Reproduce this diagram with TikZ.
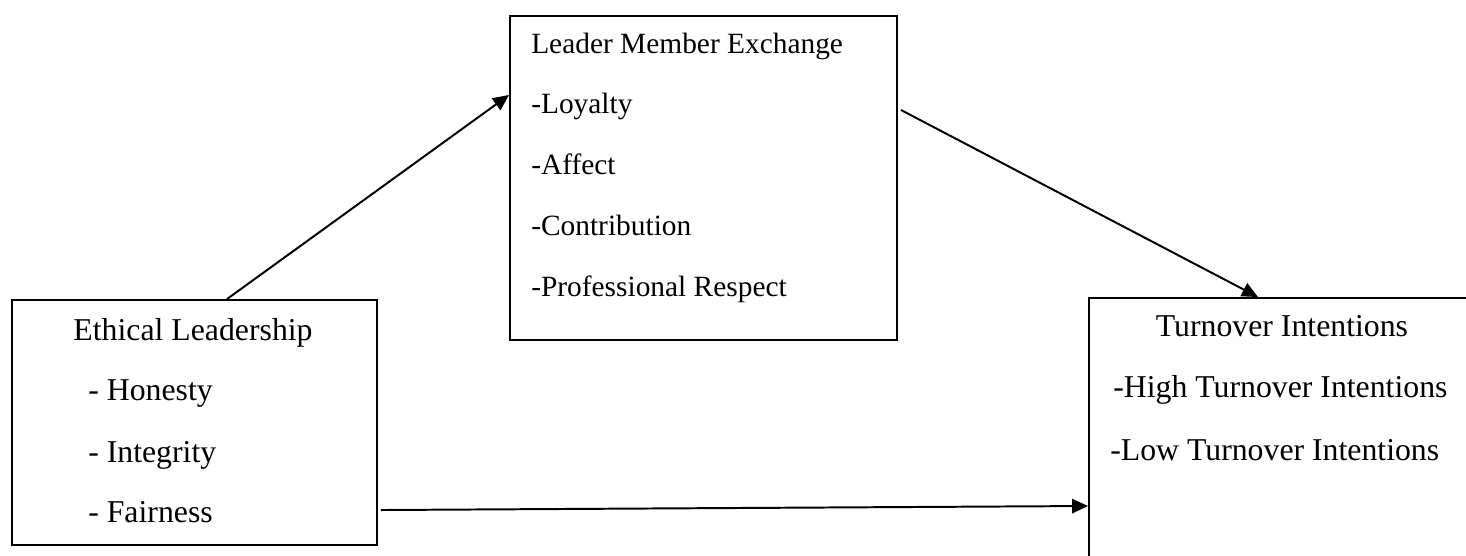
\documentclass[tikz,border=0pt]{standalone}
\usepackage{fontspec}
\setmainfont{Liberation Serif}
\usetikzlibrary{arrows.meta, positioning}

\begin{document}
\begin{tikzpicture}[
        x = 0.025cm, y = -0.025cm,
        >= {Triangle[length = 4mm, width = 3.6mm]},
        box/.style = {draw, rectangle, line width = 1.3pt, inner sep = 0pt},
        bigtext/.style = {inner sep = 0pt, font = \fontsize{22.6}{27}\selectfont},
        smalltext/.style = {inner sep = 0pt, anchor = base west, font = \fontsize{20.9}{25}\selectfont},
        link/.style = {line width = 1.4pt}
    ]

        \useasboundingbox (0,0) rectangle (1466,556);

        % the three boxes
        \node[box, minimum width = 9.125cm, minimum height = 6.125cm] (ethics) at (194.5,422.5) {};
        \node[box, minimum width = 9.675cm, minimum height = 8.1cm] (lmx) at (703.5,178) {};
        \node[box, minimum width = 9.775cm, minimum height = 6.925cm] (turnover) at (1284.5,436.5) {};

        % ethical leadership
        \node[bigtext, anchor = base] (ethics-title) at (193,341) {Ethical Leadership};
        \node[bigtext, anchor = base west] (ethics-a) at (88,401) {- Honesty};
        \node[bigtext, anchor = base west] (ethics-b) at (88,462) {- Integrity};
        \node[bigtext, anchor = base west] (ethics-c) at (88,522) {- Fairness};

        % leader member exchange
        \node[smalltext] (lmx-title) at (531,54) {Leader Member Exchange};
        \node[smalltext] (lmx-a) at (531,114) {-Loyalty};
        \node[smalltext] (lmx-b) at (531,175) {-Affect};
        \node[smalltext] (lmx-c) at (531,236) {-Contribution};
        \node[smalltext] (lmx-d) at (531,297) {-Professional Respect};

        % turnover intentions
        \node[bigtext, anchor = base] (turnover-title) at (1282,337) {Turnover Intentions};
        \node[bigtext, anchor = base west] (turnover-a) at (1113,398) {-High Turnover Intentions};
        \node[bigtext, anchor = base west] (turnover-b) at (1110,460) {-Low Turnover Intentions};

        \path[->, link]
            ([xshift = 0.8125cm]ethics.north) edge ([yshift = 2.075cm]lmx.west)
            ([xshift = 0.075cm, yshift = 1.7cm]lmx.east) edge ([xshift = -0.6625cm]turnover.north)
            ([xshift = 0.075cm, yshift = -2.1875cm]ethics.east) edge ([yshift = -1.7375cm]turnover.west);

    \end{tikzpicture}
\end{document}
